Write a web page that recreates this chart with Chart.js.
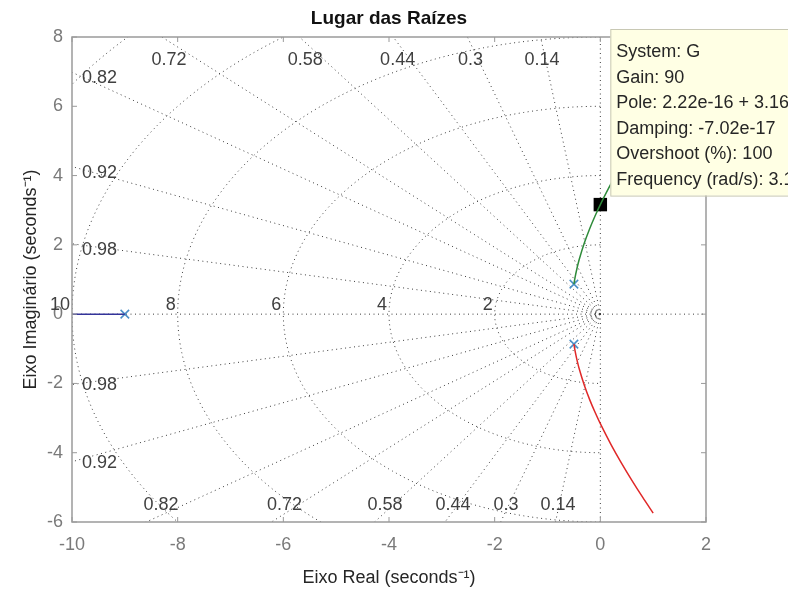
<!DOCTYPE html>
<html><head><meta charset="utf-8">
<script src="https://cdn.jsdelivr.net/npm/chart.js@4.4.1/dist/chart.umd.min.js"></script>
<style>html,body{margin:0;padding:0;background:#fff;}canvas{display:block;}</style>
</head><body>
<canvas id="c" width="788" height="590"></canvas>
<script>
// ---- data ----
const xTicks = [-10, -8, -6, -4, -2, 0, 2];
const yTicks = [-6, -4, -2, 0, 2, 4, 6, 8];
const poleRe = [-9, -0.5, -0.5];
const poleIm = [0, 0.866, -0.866];
const realBranchRe = [-9, -10.5];
const realBranchIm = [0, 0];
const upperBranchRe = [-0.5, -0.48, -0.45, -0.4, -0.3, -0.2, -0.1, 0, 0.2, 0.4, 0.6, 0.8, 1.0];
const upperBranchIm = [0.866, 1.045, 1.268, 1.575, 2.066, 2.474, 2.834, 3.162, 3.758, 4.299, 4.804, 5.284, 5.745];
const lowerBranchRe = [-0.5, -0.48, -0.45, -0.4, -0.3, -0.2, -0.1, 0, 0.2, 0.4, 0.6, 0.8, 1.0];
const lowerBranchIm = [-0.866, -1.045, -1.268, -1.575, -2.066, -2.474, -2.834, -3.162, -3.758, -4.299, -4.804, -5.284, -5.745];
const selectedRe = [0];
const selectedIm = [3.162];
const dampingValues = [0.14, 0.3, 0.44, 0.58, 0.72, 0.82, 0.92, 0.98];
const dampingLabels = ['0.14', '0.3', '0.44', '0.58', '0.72', '0.82', '0.92', '0.98'];
const freqValues = [2, 4, 6, 8, 10, 12];
const freqLabels = ['2', '4', '6', '8', '10', ''];
const tipLines = ['System: G', 'Gain: 90', 'Pole: 2.22e-16 + 3.16i', 'Damping: -7.02e-17', 'Overshoot (%): 100', 'Frequency (rad/s): 3.16'];
const titleText = 'Lugar das Raízes';
const xTitle = 'Eixo Real (seconds\u207B\u00B9)';
const yTitle = 'Eixo Imaginário (seconds\u207B\u00B9)';

const pts = (re, im) => re.map((v, i) => ({x: v, y: im[i]}));
const FONT = '"Liberation Sans", Arial, Helvetica, sans-serif';

const sgridPlugin = {
  id: 'sgrid',
  beforeDatasetsDraw(chart) {
    const {ctx, chartArea: a, scales: {x, y}} = chart;
    const X = v => x.getPixelForValue(v), Y = v => y.getPixelForValue(v);
    ctx.save();
    ctx.beginPath(); ctx.rect(a.left, a.top, a.right - a.left, a.bottom - a.top); ctx.clip();
    ctx.strokeStyle = '#3c3c3c'; ctx.lineWidth = 1; ctx.setLineDash([1, 3.5]);
    // axes lines
    ctx.beginPath(); ctx.moveTo(X(x.min), Y(0)); ctx.lineTo(X(x.max), Y(0)); ctx.stroke();
    ctx.beginPath(); ctx.moveTo(X(0), Y(y.min)); ctx.lineTo(X(0), Y(y.max)); ctx.stroke();
    // damping rays
    dampingValues.forEach(z => {
      const w = Math.sqrt(1 - z * z);
      [1, -1].forEach(s => {
        ctx.beginPath(); ctx.moveTo(X(0), Y(0)); ctx.lineTo(X(-z * 30), Y(s * w * 30)); ctx.stroke();
      });
    });
    // frequency arcs
    freqValues.forEach(r => {
      ctx.beginPath();
      for (let k = 0; k <= 180; k++) {
        const th = Math.PI / 2 + k * Math.PI / 180;
        const px = X(r * Math.cos(th)), py = Y(r * Math.sin(th));
        if (k === 0) ctx.moveTo(px, py); else ctx.lineTo(px, py);
      }
      ctx.stroke();
    });
    ctx.restore();
    // labels
    ctx.save();
    ctx.fillStyle = '#404040'; ctx.font = '18px ' + FONT;
    ctx.textBaseline = 'middle';
    dampingValues.forEach((z, i) => {
      const w = Math.sqrt(1 - z * z);
      [1, -1].forEach(s => {
        const yEdge = s > 0 ? y.max : y.min;
        const tV = Math.abs(yEdge) / w, tL = -x.min / z;
        if (tV < tL) {
          const xi = X(-z * tV);
          ctx.textAlign = 'center';
          if (s > 0) ctx.fillText(dampingLabels[i], xi + 10 * z, a.top + 23);
          else ctx.fillText(dampingLabels[i], xi + 18 * z, a.bottom - 17);
        } else {
          const yi = Y(s * w * tL);
          ctx.textAlign = 'left';
          ctx.fillText(dampingLabels[i], a.left + 10, yi + (s > 0 ? 6 : 1));
        }
      });
    });
    ctx.textAlign = 'right';
    freqValues.forEach((r, i) => {
      if (freqLabels[i]) ctx.fillText(freqLabels[i], X(-r) - 2, Y(0) - 9);
    });
    ctx.restore();
  },
  afterDraw(chart) {
    const {ctx, chartArea: a, scales: {x, y}} = chart;
    const X = v => x.getPixelForValue(v), Y = v => y.getPixelForValue(v);
    ctx.save();
    // box and inward ticks
    ctx.strokeStyle = '#9a9a9a'; ctx.lineWidth = 1.5;
    ctx.strokeRect(a.left, a.top, a.right - a.left, a.bottom - a.top);
    ctx.lineWidth = 1;
    ctx.beginPath();
    xTicks.forEach(v => { const p = X(v); ctx.moveTo(p, a.bottom); ctx.lineTo(p, a.bottom - 5); ctx.moveTo(p, a.top); ctx.lineTo(p, a.top + 5); });
    yTicks.forEach(v => { const p = Y(v); ctx.moveTo(a.left, p); ctx.lineTo(a.left + 5, p); ctx.moveTo(a.right, p); ctx.lineTo(a.right - 5, p); });
    ctx.stroke();
    // title
    ctx.fillStyle = '#111'; ctx.font = 'bold 19px ' + FONT;
    ctx.textAlign = 'center'; ctx.textBaseline = 'middle';
    ctx.fillText(titleText, (a.left + a.right) / 2, 19);
    // data tip
    const sx = X(selectedRe[0]), sy = Y(selectedIm[0]);
    const bl = sx + 10, bt = 29, bb = sy - 9;
    ctx.fillStyle = '#ffffe4'; ctx.fillRect(bl, bt, chart.width - bl + 5, bb - bt);
    ctx.strokeStyle = '#c8c8b4'; ctx.lineWidth = 1;
    ctx.strokeRect(bl + 0.5, bt + 0.5, chart.width - bl + 5, bb - bt);
    ctx.fillStyle = '#262626'; ctx.font = '18px ' + FONT;
    ctx.textAlign = 'left';
    tipLines.forEach((t, i) => ctx.fillText(t, bl + 6, bt + 23 + i * 25.6));
    ctx.restore();
  }
};

new Chart(document.getElementById('c'), {
  type: 'scatter',
  data: {
    datasets: [
      {data: pts(realBranchRe, realBranchIm), showLine: true, borderColor: '#34349a', borderWidth: 1.5, pointRadius: 0},
      {data: pts(upperBranchRe, upperBranchIm), showLine: true, borderColor: '#2e8b3a', borderWidth: 1.5, pointRadius: 0, tension: 0.3},
      {data: pts(lowerBranchRe, lowerBranchIm), showLine: true, borderColor: '#e02828', borderWidth: 1.5, pointRadius: 0, tension: 0.3},
      {data: pts(poleRe, poleIm), showLine: false, pointStyle: 'crossRot', pointRadius: 6, borderColor: '#4a8fc8', borderWidth: 1.5},
      {data: pts(selectedRe, selectedIm), showLine: false, pointStyle: 'rect', pointRadius: 9.5, backgroundColor: '#000', borderColor: '#000', borderWidth: 0}
    ]
  },
  options: {
    responsive: false, animation: false, devicePixelRatio: 1,
    layout: {padding: {left: 0, right: 82, top: 37, bottom: 0}},
    plugins: {legend: {display: false}, tooltip: {enabled: false}},
    scales: {
      x: {
        type: 'linear', min: -10, max: 2,
        afterBuildTicks: s => { s.ticks = xTicks.map(v => ({value: v})); },
        afterFit: s => { s.height = 68; },
        grid: {display: false, drawTicks: false}, border: {display: false},
        ticks: {autoSkip: false, maxRotation: 0, padding: 12, color: '#7a7a7a', font: {family: FONT, size: 18}},
        title: {display: true, text: xTitle, color: '#262626', font: {family: FONT, size: 18}, padding: {top: 0, bottom: 1}}
      },
      y: {
        type: 'linear', min: -6, max: 8,
        afterBuildTicks: s => { s.ticks = yTicks.map(v => ({value: v})); },
        afterFit: s => { s.width = 72; },
        grid: {display: false, drawTicks: false}, border: {display: false},
        ticks: {autoSkip: false, padding: 9, color: '#7a7a7a', font: {family: FONT, size: 18}},
        title: {display: true, text: yTitle, color: '#262626', font: {family: FONT, size: 18}, padding: {top: 20, bottom: 0}}
      }
    }
  },
  plugins: [sgridPlugin]
});
</script>
</body></html>
